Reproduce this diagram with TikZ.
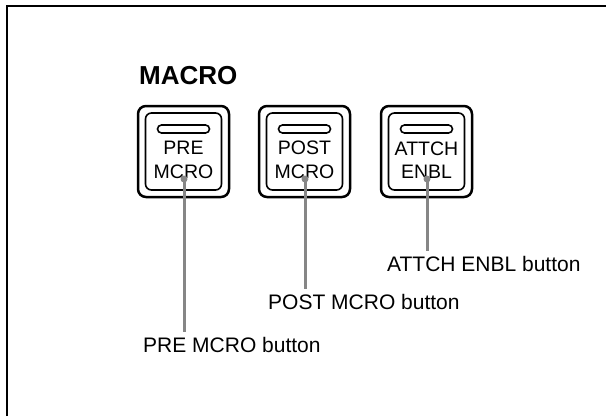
\documentclass[tikz,border=0pt]{standalone}
\usepackage{fontspec}
\setmainfont{Liberation Sans}
\usetikzlibrary{positioning,calc}

\begin{document}
\begin{tikzpicture}[x=1pt, y=-1pt,
  outerkey/.style={draw, line width=2.5pt, rounded corners=8pt, minimum width=91pt, minimum height=91pt, inner sep=0pt},
  innerkey/.style={draw, line width=1.6pt, rounded corners=6pt, minimum width=76pt, minimum height=77pt, inner sep=0pt},
  slot/.style={draw, line width=1.6pt, rounded corners=4pt, minimum width=52pt, minimum height=8pt, inner sep=0pt},
  keytext/.style={align=center, inner sep=0pt, font=\fontsize{19.5}{23.5}\selectfont},
  tipdot/.style={circle, fill=gray!95, inner sep=0pt, minimum size=7pt},
  leader/.style={draw=gray!95, line width=3pt, shorten >=5pt},
  callout/.style={anchor=north west, inner sep=0pt, font=\fontsize{21}{25}\selectfont}
]
\useasboundingbox (0,0) rectangle (606,416);
% frame
\draw[line width=1.8pt] (7,416) -- (7,6) -- (606,6);

\node[anchor=base west, inner sep=0pt, font=\fontsize{26}{30}\selectfont\bfseries] (title) at (139,84) {MACRO};

% buttons
\node[outerkey] (pre) at (183.5,151.5) {};
\node[innerkey] (preIn) at (pre.center) {};
\node[slot] (preSlot) at (183.5,129) {};
\node[keytext] (preTxt) at (183.5,160) {PRE\\MCRO};

\node[outerkey] (post) at (304.5,151.5) {};
\node[innerkey] (postIn) at (post.center) {};
\node[slot] (postSlot) at (304.5,129) {};
\node[keytext] (postTxt) at (304.5,160) {POST\\MCRO};

\node[outerkey] (attch) at (426.5,151.5) {};
\node[innerkey] (attchIn) at (attch.center) {};
\node[slot] (attchSlot) at (426.5,129) {};
\node[keytext] (attchTxt) at (426.5,160) {ATTCH\\ENBL};

% callouts
\node[tipdot] (preDot) at (184,179) {};
\node[tipdot] (postDot) at (305,179) {};
\node[tipdot] (attchDot) at (427,179) {};

\node[callout] (preLbl) at (143,337) {PRE MCRO button};
\node[callout] (postLbl) at (268,294) {POST MCRO button};
\node[callout] (attchLbl) at (387,256) {ATTCH ENBL button};

\draw[leader] (preDot.center) -- (preDot |- preLbl.north);
\draw[leader] (postDot.center) -- (postDot |- postLbl.north);
\draw[leader] (attchDot.center) -- (attchDot |- attchLbl.north);
\end{tikzpicture}
\end{document}
